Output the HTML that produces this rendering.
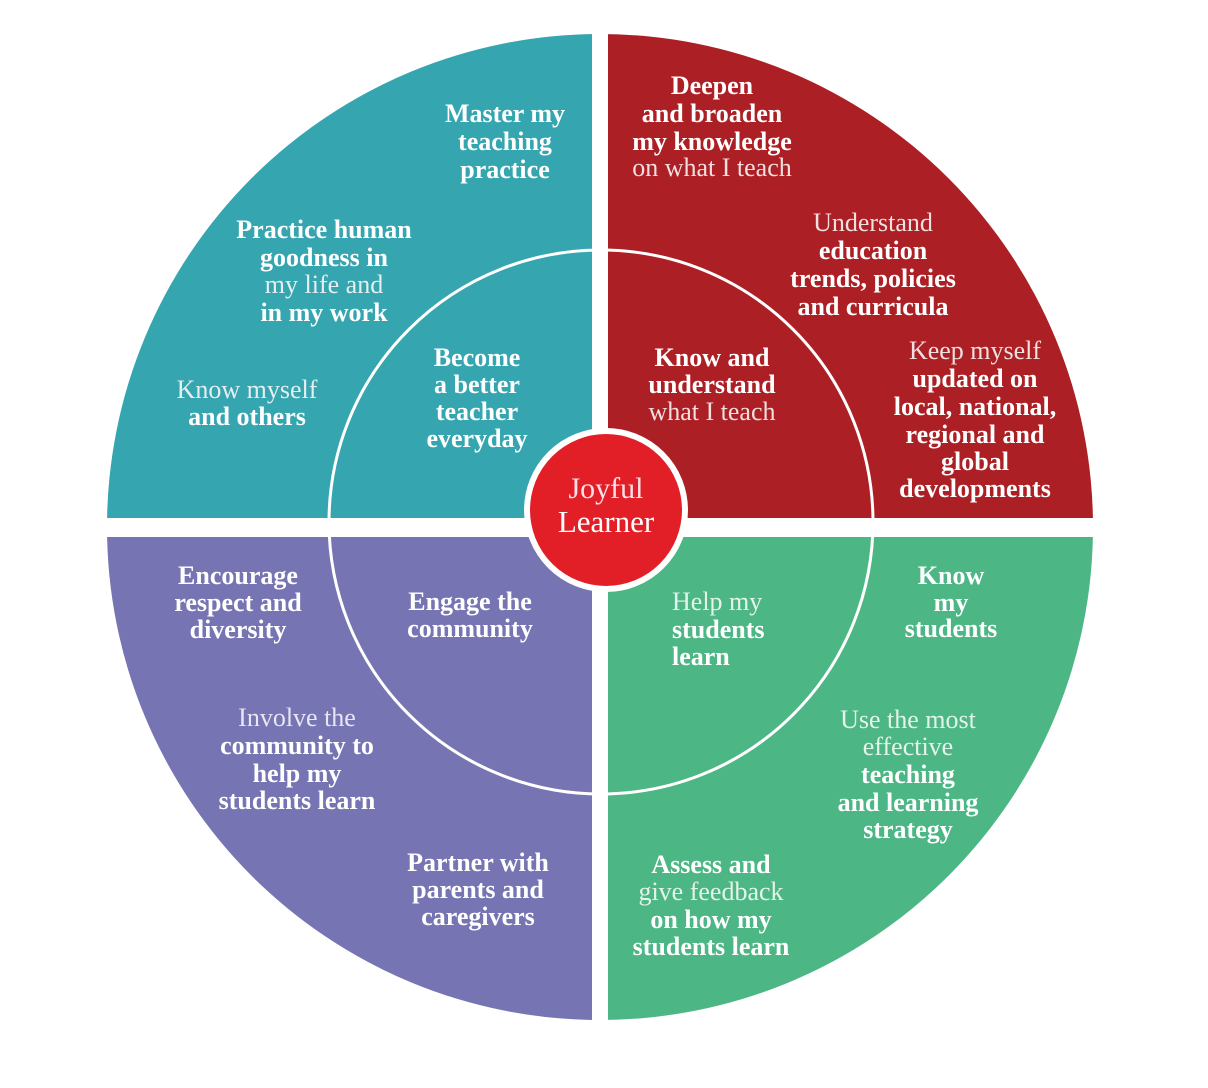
<!DOCTYPE html>
<html><head><meta charset="utf-8"><style>html,body{margin:0;padding:0;background:#fff;width:1208px;height:1088px;overflow:hidden}</style></head>
<body>
<svg width="1208" height="1088" viewBox="0 0 1208 1088" xmlns="http://www.w3.org/2000/svg" font-family="Liberation Serif, serif">
<defs><clipPath id="c"><circle cx="600" cy="527" r="493"/></clipPath></defs>
<g clip-path="url(#c)">
<rect x="100" y="30" width="500" height="497" fill="#35a6b0"/>
<rect x="600" y="30" width="500" height="497" fill="#ac1f24"/>
<rect x="100" y="527" width="500" height="500" fill="#7674b2"/>
<rect x="600" y="527" width="500" height="500" fill="#4db685"/>
</g>
<circle cx="601" cy="522" r="272" fill="none" stroke="#fff" stroke-width="3"/>
<rect x="592" y="20" width="16" height="1020" fill="#fff"/>
<rect x="90" y="518" width="1020" height="19" fill="#fff"/>
<circle cx="606" cy="510" r="79" fill="#e21f26" stroke="#fff" stroke-width="6"/>
<g text-anchor="middle" font-size="26" fill="#fff" font-weight="bold">
<text x="505" y="122">Master my</text><text x="505" y="150">teaching</text><text x="505" y="178">practice</text>
<text x="324" y="238">Practice human</text><text x="324" y="266">goodness in</text><text x="324" y="293" font-weight="normal" fill="#e6eef0">my life and</text><text x="324" y="321">in my work</text>
<text x="247" y="398" font-weight="normal" fill="#e6eef0">Know myself</text><text x="247" y="425">and others</text>
<text x="477" y="366">Become</text><text x="477" y="393">a better</text><text x="477" y="420">teacher</text><text x="477" y="447">everyday</text>
<text x="712" y="94">Deepen</text><text x="712" y="122">and broaden</text><text x="712" y="150">my knowledge</text><text x="712" y="176" font-weight="normal" fill="#f0e0e0">on what I teach</text>
<text x="873" y="231" font-weight="normal" fill="#f0e0e0">Understand</text><text x="873" y="259">education</text><text x="873" y="287">trends, policies</text><text x="873" y="315">and curricula</text>
<text x="975" y="359" font-weight="normal" fill="#f0e0e0">Keep myself</text><text x="975" y="387">updated on</text><text x="975" y="415">local, national,</text><text x="975" y="443">regional and</text><text x="975" y="470">global</text><text x="975" y="497">developments</text>
<text x="712" y="366">Know and</text><text x="712" y="393">understand</text><text x="712" y="420" font-weight="normal" fill="#f0e0e0">what I teach</text>
<text x="606" y="498" font-size="30" font-weight="normal" fill="#fde0e8">Joyful</text><text x="606" y="532" font-size="31" font-weight="normal">Learner</text>
<text x="238" y="584">Encourage</text><text x="238" y="611">respect and</text><text x="238" y="638">diversity</text>
<text x="470" y="610">Engage the</text><text x="470" y="637">community</text>
<text x="297" y="726" font-weight="normal" fill="#e8e6f4">Involve the</text><text x="297" y="754">community to</text><text x="297" y="782">help my</text><text x="297" y="809">students learn</text>
<text x="478" y="871">Partner with</text><text x="478" y="898">parents and</text><text x="478" y="925">caregivers</text>
<text x="951" y="584">Know</text><text x="951" y="611">my</text><text x="951" y="637">students</text>
<text x="908" y="728" font-weight="normal" fill="#e4f4ea">Use the most</text><text x="908" y="755" font-weight="normal" fill="#e4f4ea">effective</text><text x="908" y="783">teaching</text><text x="908" y="811">and learning</text><text x="908" y="838">strategy</text>
<text x="711" y="873">Assess and</text><text x="711" y="900" font-weight="normal" fill="#e4f4ea">give feedback</text><text x="711" y="928">on how my</text><text x="711" y="955">students learn</text>
</g>
<g font-size="26" fill="#fff" font-weight="bold">
<text x="672" y="610" font-weight="normal" fill="#e4f4ea">Help my</text><text x="672" y="638">students</text><text x="672" y="665">learn</text>
</g>
</svg>
</body></html>
